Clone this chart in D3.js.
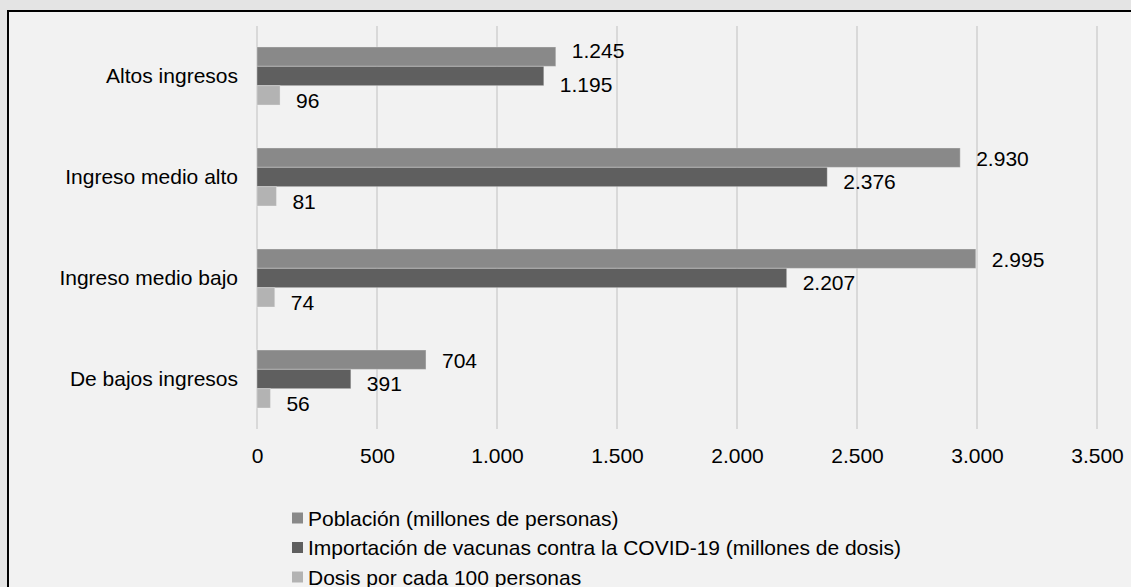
<!DOCTYPE html>
<html>
<head>
<meta charset="utf-8">
<script src="https://cdn.jsdelivr.net/npm/d3@7"></script>
<style>
  html, body { margin: 0; padding: 0; background: #e4e4e4; }
  svg { display: block; font-family: "Liberation Sans", Arial, sans-serif; }
</style>
</head>
<body>
<svg id="chart" width="1131" height="587"></svg>
<script>
const categories = ["Altos ingresos", "Ingreso medio alto", "Ingreso medio bajo", "De bajos ingresos"];
const seriesNames = [
  "Población (millones de personas)",
  "Importación de vacunas contra la COVID-19 (millones de dosis)",
  "Dosis por cada 100 personas"
];
const poblacion = [1245, 2930, 2995, 704];
const importacion = [1195, 2376, 2207, 391];
const dosis = [96, 81, 74, 56];
const tickValues = [0, 500, 1000, 1500, 2000, 2500, 3000, 3500];
const colors = ["#898989", "#5f5f5f", "#b3b3b3"];

const seriesValues = [poblacion, importacion, dosis];
const fmt = d3.formatLocale({decimal: ",", thousands: ".", grouping: [3], currency: ["", ""]}).format(",.0f");

const svg = d3.select("#chart");
// frame
svg.append("rect").attr("x", 8).attr("y", 11).attr("width", 1200).attr("height", 700)
  .attr("fill", "#f2f2f2").attr("stroke", "#000").attr("stroke-width", 2);

const x = d3.scaleLinear().domain([0, 3500]).range([257, 1097]);
const y = d3.scaleBand().domain(categories).range([26, 429]).paddingInner(0.426).paddingOuter(0.208);
const ySub = d3.scaleBand().domain(d3.range(seriesNames.length)).range([0, y.bandwidth()]);

// gridlines
svg.append("g").selectAll("line").data(tickValues).join("line")
  .attr("x1", d => x(d)).attr("x2", d => x(d))
  .attr("y1", 26).attr("y2", 429)
  .attr("stroke", "#d9d9d9").attr("stroke-width", 2);

// x axis labels
const xAxis = d3.axisBottom(x).tickValues(tickValues).tickFormat(d => fmt(d)).tickSize(0).tickPadding(0);
const gx = svg.append("g").attr("transform", "translate(0,448)").call(xAxis);
gx.select(".domain").remove();
gx.selectAll("text").attr("font-size", 21).attr("fill", "#000")
  .attr("font-family", "'Liberation Sans', Arial, sans-serif");

// y axis labels
const yAxis = d3.axisLeft(y).tickSize(0).tickPadding(0);
const gy = svg.append("g").attr("transform", "translate(238,0)").call(yAxis);
gy.select(".domain").remove();
gy.selectAll("text").attr("font-size", 21).attr("fill", "#000")
  .attr("font-family", "'Liberation Sans', Arial, sans-serif");

// bars
const rows = [];
categories.forEach((c, i) => {
  seriesValues.forEach((vals, s) => rows.push({cat: c, s, v: vals[i]}));
});

svg.append("g").selectAll("rect").data(rows).join("rect")
  .attr("x", x(0))
  .attr("y", d => y(d.cat) + ySub(d.s))
  .attr("width", d => x(d.v) - x(0))
  .attr("height", ySub.bandwidth())
  .attr("fill", d => colors[d.s])
  .attr("stroke", "#f2f2f2").attr("stroke-opacity", 0.35).attr("stroke-width", 1);

// data labels
const baseDy = [1, 4.5, 5.5];
const lblG = svg.append("g");
const labels = lblG.selectAll("text").data(rows).join("text")
  .attr("x", d => x(d.v) + 16)
  .attr("y", d => y(d.cat) + ySub(d.s) + ySub.bandwidth() / 2 + baseDy[d.s])
  .attr("dominant-baseline", "central")
  .attr("font-size", 21).attr("fill", "#000")
  .text(d => fmt(d.v));

// simple overlap avoidance between neighbouring labels in a group
categories.forEach(c => {
  const nodes = labels.filter(d => d.cat === c).nodes();
  for (let k = 0; k < nodes.length - 1; k++) {
    const a = nodes[k].getBBox(), b = nodes[k + 1].getBBox();
    const overlapX = a.x < b.x + b.width && b.x < a.x + a.width;
    if (overlapX) {
      d3.select(nodes[k]).attr("y", +nodes[k].getAttribute("y") - 7);
      d3.select(nodes[k + 1]).attr("y", +nodes[k + 1].getAttribute("y") + 4.5);
    }
  }
});

// legend
const legend = svg.append("g").selectAll("g").data(seriesNames).join("g")
  .attr("transform", (d, i) => `translate(292, ${518 + i * 29.5})`);
legend.append("rect").attr("x", 0).attr("y", -5.5).attr("width", 11).attr("height", 11)
  .attr("fill", (d, i) => colors[i]);
legend.append("text").attr("x", 16).attr("y", 0).attr("dominant-baseline", "central")
  .attr("font-size", 21).attr("fill", "#000").text(d => d);
</script>
</body>
</html>
